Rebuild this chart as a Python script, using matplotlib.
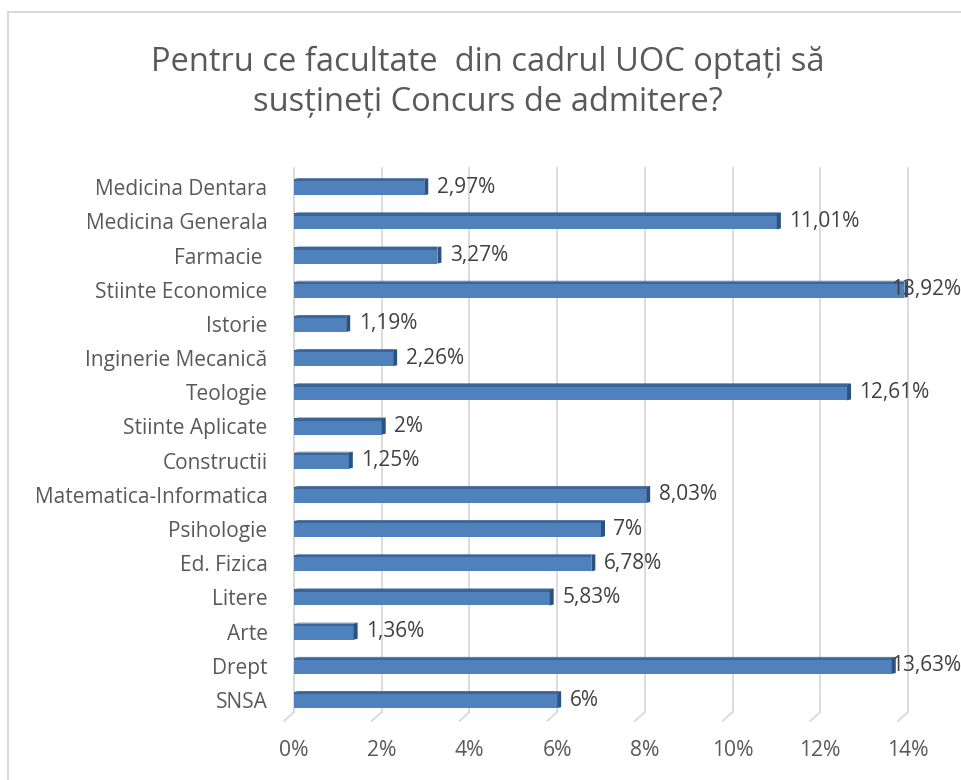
import matplotlib
matplotlib.use("Agg")
import matplotlib.pyplot as plt
from matplotlib.patches import Rectangle, Polygon
import numpy as np

categories = ["Medicina Dentara", "Medicina Generala", "Farmacie ", "Stiinte Economice",
              "Istorie", "Inginerie Mecanică", "Teologie", "Stiinte Aplicate", "Constructii",
              "Matematica-Informatica", "Psihologie", "Ed. Fizica", "Litere", "Arte", "Drept", "SNSA"]
values = [2.97, 11.01, 3.27, 13.92, 1.19, 2.26, 12.61, 2.0, 1.25, 8.03, 7.0, 6.78, 5.83, 1.36, 13.63, 6.0]
value_labels = ["2,97%", "11,01%", "3,27%", "13,92%", "1,19%", "2,26%", "12,61%", "2%", "1,25%",
                "8,03%", "7%", "6,78%", "5,83%", "1,36%", "13,63%", "6%"]
xticks = [0, 2, 4, 6, 8, 10, 12, 14]
xtick_labels = ["0%", "2%", "4%", "6%", "8%", "10%", "12%", "14%"]
title = "Pentru ce facultate  din cadrul UOC optați să\nsusțineți Concurs de admitere?"

FONT = ["Open Sans", "DejaVu Sans"]
plt.rcParams["font.family"] = FONT
TEXT = "#595959"
BAR = "#4F81BD"
BAR_TOP = "#3A6599"
BAR_CAP = "#2C5282"
GRID = "#D9D9D9"

fig = plt.figure(figsize=(9.62, 7.8), dpi=100)
fig.patches.append(Rectangle((8/962, -0.01), 1.0, 1 - 12/780 + 0.01, transform=fig.transFigure,
                             fill=False, edgecolor="#D9D9D9", linewidth=1.5))

ax = fig.add_axes([294/962, 1 - 712/780, 614/962, (712 - 168)/780])
n = len(categories)
ypos = np.arange(n)[::-1]  # first category at top
h = 0.47
ymin, ymax = -0.35, n - 1 + 0.56
ax.set_xlim(0, 14)
ax.set_ylim(ymin, ymax)

# 3D-like gridlines with slanted floor foot
for x in xticks:
    ax.plot([x, x], [ymin, ymax], color=GRID, lw=1.3, zorder=0, clip_on=False)
    ax.annotate("", xy=(x, ymin), xycoords="data", xytext=(-10, -9), textcoords="offset pixels",
                arrowprops=dict(arrowstyle="-", color=GRID, lw=1.3, shrinkA=0, shrinkB=0),
                annotation_clip=False)

ax.barh(ypos, values, height=h, color=BAR, edgecolor="none", zorder=2)

# depth effect (top strip and right cap)
dx = 4 / 43.86
dy = 3 / 34.2
for y, v in zip(ypos, values):
    top = y + h / 2
    ax.add_patch(Rectangle((0, top - dy * 0.75), v, dy * 0.75, color=BAR_TOP, zorder=3, lw=0))
    ax.add_patch(Polygon([(0, top), (v, top), (v + dx, top + dy * 0.3), (dx, top + dy * 0.3)],
                         closed=True, color=BAR_TOP, zorder=3, lw=0))
    ax.add_patch(Polygon([(v, y - h / 2), (v, top), (v + dx, top + dy * 0.3), (v + dx, y - h / 2 + dy * 0.3)],
                         closed=True, color=BAR_CAP, zorder=3, lw=0))

vlabels = []
for y, v, lab in zip(ypos, values, value_labels):
    t = ax.annotate(lab, xy=(v, y), xytext=(9, 0), textcoords="offset points",
                    va="center", ha="left", fontsize=15, color="#404040", zorder=5,
                    annotation_clip=False)
    vlabels.append(t)

ax.set_yticks(ypos)
ax.set_yticklabels(categories, fontsize=15, color=TEXT)
ax.set_xticks(xticks)
ax.set_xticklabels(xtick_labels, fontsize=15.2, color=TEXT)
ax.tick_params(axis="both", length=0)
ax.tick_params(axis="x", pad=20)
ax.tick_params(axis="y", pad=19)
for s in ax.spines.values():
    s.set_visible(False)
ax.set_facecolor("none")

fig.text(488/962, 1 - 82/780, title, ha="center", va="center", fontsize=23.5,
         color=TEXT, linespacing=1.28)

# keep value labels inside the figure (as the original does)
fig.canvas.draw()
r = fig.canvas.get_renderer()
W = fig.bbox.width
inv = ax.transData.inverted()
for t in vlabels:
    bb = t.get_window_extent(r)
    if bb.x1 > W - 1:
        t.set_ha("right")
        t.set_position((0, 0))
        xr = inv.transform((W - 1, 0))[0]
        t.xy = (xr, t.xy[1])

fig.savefig("out.png", dpi=100)
